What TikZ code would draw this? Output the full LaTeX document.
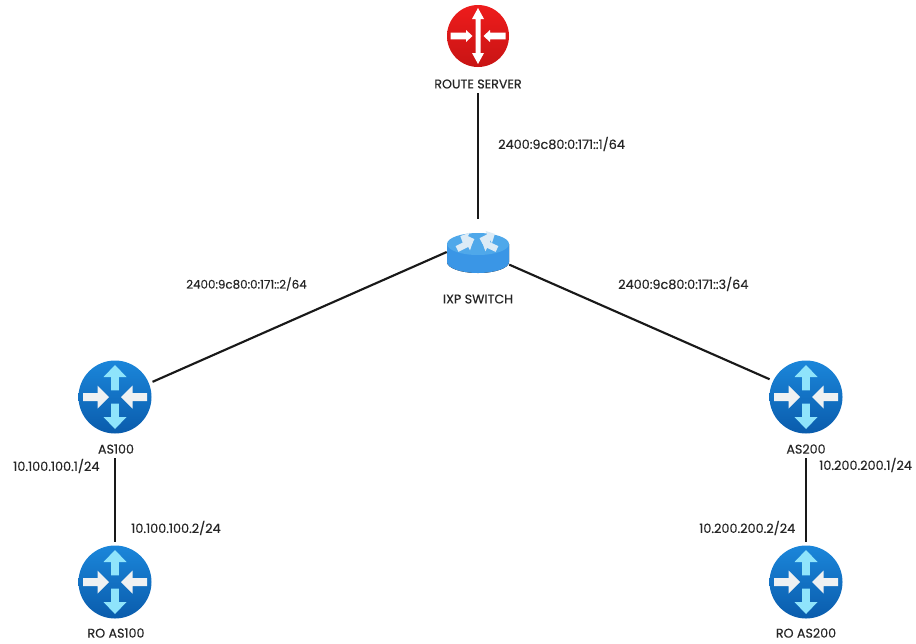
\documentclass[tikz,border=0pt]{standalone}
\usepackage{fontspec}
\setmainfont{Poppins}[FakeBold=0.3]
\definecolor{routertop}{HTML}{1B86DA}
\definecolor{routerbot}{HTML}{0A5CAC}
\definecolor{arrowblue}{HTML}{8FE4FB}
\definecolor{arrowgrey}{HTML}{EFF1F2}
\definecolor{serverred}{HTML}{EE1C1C}
\definecolor{serverdark}{HTML}{C81414}
\definecolor{switchtop}{HTML}{4FA8EA}
\definecolor{switchside}{HTML}{3A96E6}
\definecolor{switchband}{HTML}{7CC6F3}
\definecolor{switchmark}{HTML}{DCEBF6}
\begin{document}
\begin{tikzpicture}[x=0.75pt,y=-0.75pt,
      devname/.style={font=\fontsize{9.5pt}{11pt}\selectfont,text=black!85,inner sep=0pt,minimum height=13.5pt},
      addr/.style={font=\fontsize{9.6pt}{11pt}\selectfont,text=black!85,inner sep=0pt,anchor=west},
      link/.style={line width=1.6pt,black!90},
      router/.style={circle,minimum size=54.75pt,inner sep=0pt,outer sep=3pt,top color=routertop,bottom color=routerbot},
      redrouter/.style={circle,minimum size=46.5pt,inner sep=0pt,top color=serverred,bottom color=serverdark},
      switchbox/.style={rectangle,minimum width=46.5pt,minimum height=30pt,inner sep=0pt},
      routerarrows/.pic={
        \foreach \ang in {0,180}
          \fill[arrowblue,rotate=\ang] (-3.8,-6.7) -- (-3.8,-20) -- (-11.5,-20) -- (0,-32) -- (11.5,-20) -- (3.8,-20) -- (3.8,-6.7) -- cycle;
        \foreach \ang in {90,270}
          \fill[arrowgrey,rotate=\ang] (-4,-32) -- (-4,-17.5) -- (-11.5,-17.5) -- (0,-6) -- (11.5,-17.5) -- (4,-17.5) -- (4,-32) -- cycle;
      },
      serverarrows/.pic={
        \foreach \ang in {0,180}
          \fill[white,rotate=\ang] (-2.5,0) -- (-2.5,-17) -- (-6,-17) -- (0,-28) -- (6,-17) -- (2.5,-17) -- (2.5,0) -- cycle;
        \foreach \ang in {90,270}
          \fill[white,rotate=\ang] (-3.3,-27.5) -- (-3.3,-12) -- (-6,-12) -- (0,-5.5) -- (6,-12) -- (3.3,-12) -- (3.3,-27.5) -- cycle;
      },
      switchbody/.pic={
        \fill[left color=switchside,middle color=switchband,right color=switchside] (-31,-8) -- (-31,10) arc[x radius=31,y radius=11,start angle=180,end angle=0] -- (31,-8) -- cycle;
        \fill[switchtop] (0,-8) ellipse[x radius=31,y radius=11];
        % four arrows on the lid
        \foreach \tx/\ty/\ang/\len in {-21/-3/26.6/18,-5/-10/155/14,3/-11/27/15.6,19/-3/155/16.5}
          \fill[switchmark,shift={(\tx,\ty)},rotate=\ang] (0,-3.2) -- (\len-7,-3.2) -- (\len-7,-7) -- (\len,0) -- (\len-7,7) -- (\len-7,3.2) -- (0,3.2) -- cycle;
      }]
  \useasboundingbox (0,0) rectangle (916,643);

  % routers
  \node[redrouter] (rs) at (478,36) {};
  \node[switchbox] (ixp) at (478,252) {};
  \node[router] (as100) at (115,397) {};
  \node[router] (roas100) at (115,582) {};
  \node[router] (as200) at (806,397) {};
  \node[router] (roas200) at (806,582) {};
  \pic at (rs) {serverarrows};
  \pic at (ixp) {switchbody};
  \pic at (as100) {routerarrows};
  \pic at (roas100) {routerarrows};
  \pic at (as200) {routerarrows};
  \pic at (roas200) {routerarrows};

  % names
  \node[devname] (rslabel) at (478,84) {ROUTE SERVER};
  \node[devname] (ixplabel) at (478,299) {IXP SWITCH};
  \node[devname] (as100label) at (116,449) {AS100};
  \node[devname] (roas100label) at (116,633) {RO AS100};
  \node[devname] (as200label) at (806,449) {AS200};
  \node[devname] (roas200label) at (806,633) {RO AS200};

  % links
  \coordinate (ixptop) at (478,219);
  \draw[link] (rslabel.south) -- (ixptop);
  \draw[link] (ixp.west) -- (as100.22.8);
  \draw[link] (ixp.-22.8) -- (as200.154);
  \draw[link] (as100label.south -| roas100.north) -- (roas100.north);
  \draw[link] (as200label.south) -- (roas200.north);

  % addresses
  \node[addr] (addrrs) at (498,144) {2400:9c80:0:171::1/64};
  \node[addr,font=\fontsize{8.9pt}{11pt}\selectfont] (addras100) at (186,284) {2400:9c80:0:171::2/64};
  \node[addr] (addras200) at (618,284) {2400:9c80:0:171::3/64};
  \node[addr] (addrup100) at (13,466) {10.100.100.1/24};
  \node[addr] (addrlo100) at (131,528) {10.100.100.2/24};
  \node[addr] (addrup200) at (819,465) {10.200.200.1/24};
  \node[addr] (addrlo200) at (699,528) {10.200.200.2/24};
\end{tikzpicture}
\end{document}
